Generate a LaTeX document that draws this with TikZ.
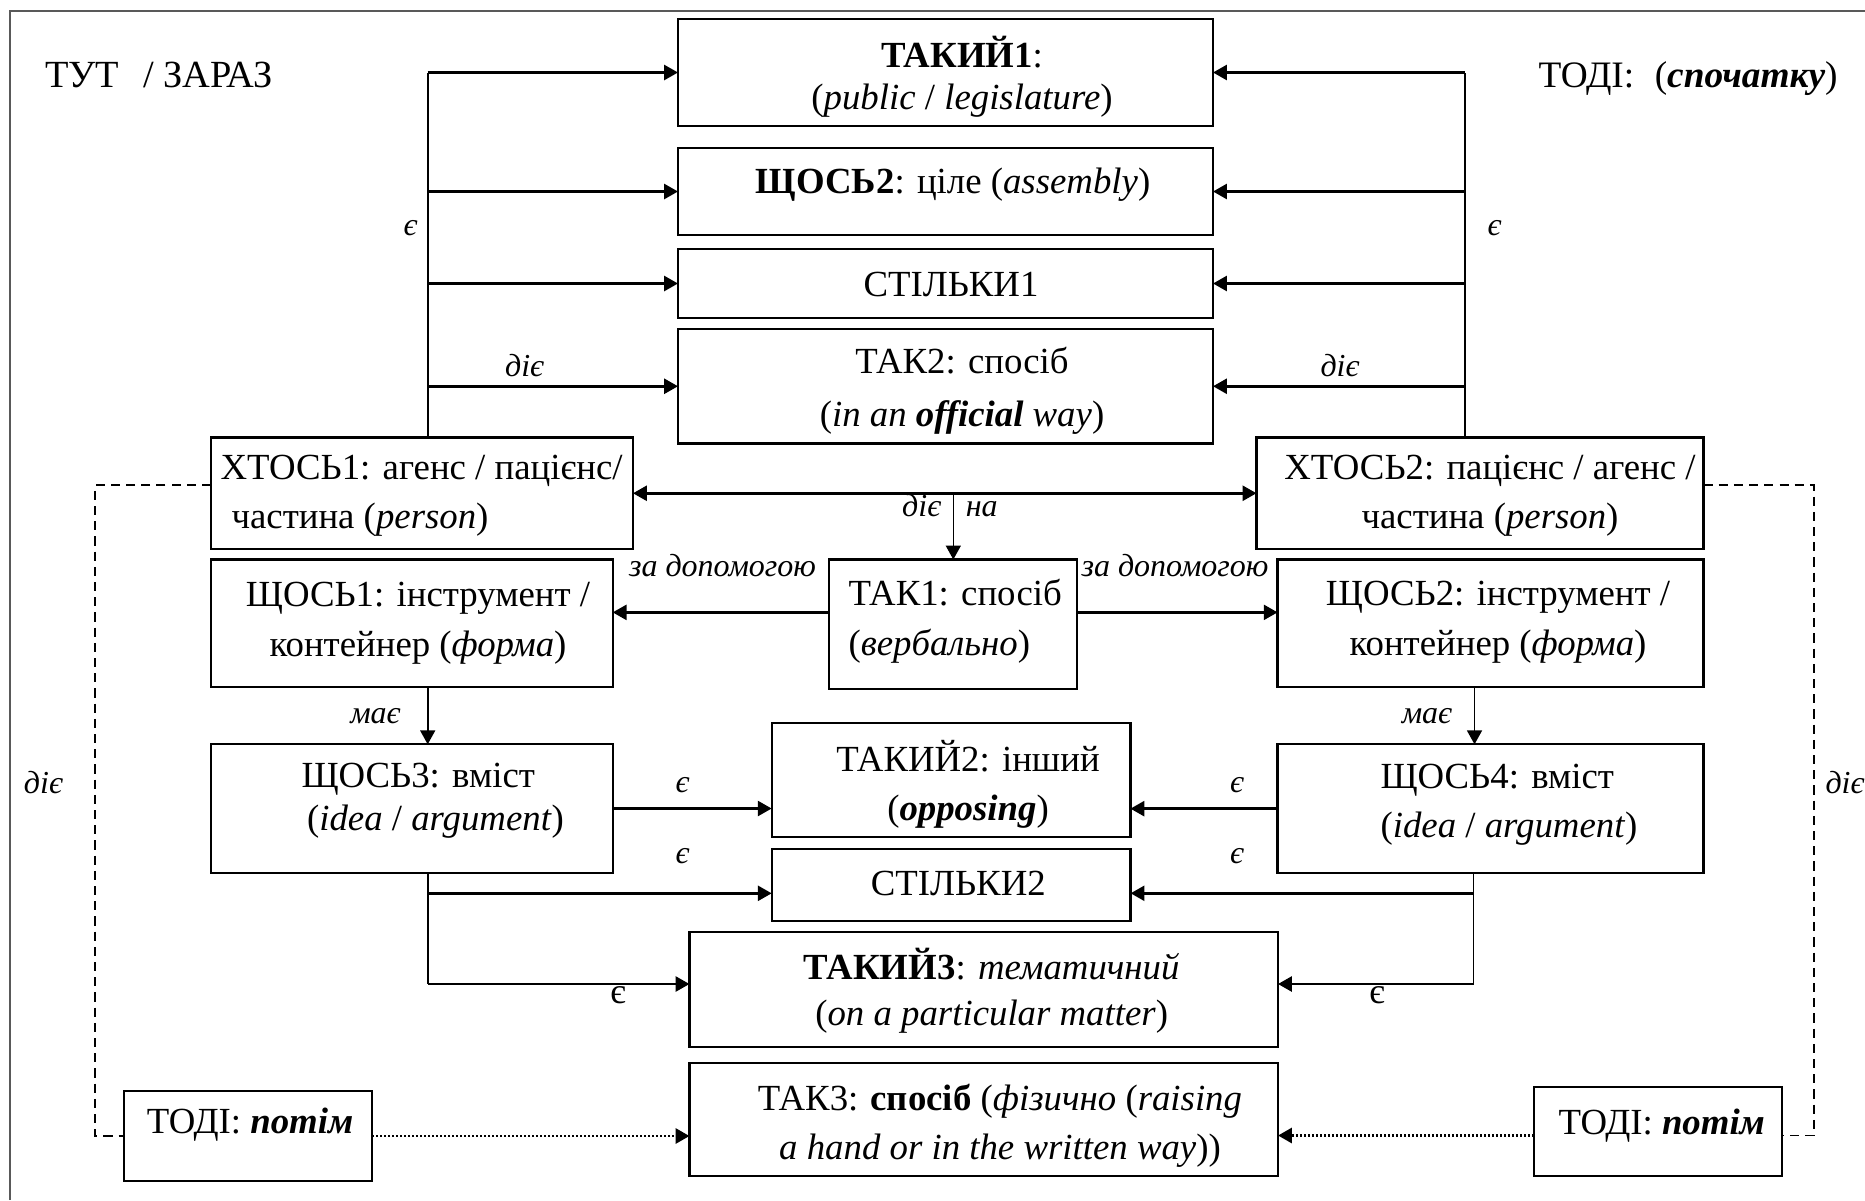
\documentclass[tikz,border=0pt]{standalone}
\usepackage{fontspec}
\setmainfont{Liberation Serif}
\usetikzlibrary{arrows.meta,fit}

\begin{document}
\begin{tikzpicture}[x=0.375pt,y=-0.375pt,
  box/.style={draw,line width=0.85pt,rectangle,inner sep=0pt,outer sep=0pt},
  txt/.style={inner sep=0pt,align=center,font=\fontsize{13.8}{18.4}\selectfont},
  lbl/.style={inner sep=0pt,anchor=base,font=\fontsize{12}{14}\selectfont\itshape},
  tip/.tip={Triangle[length=5.2pt,width=5.6pt]},
  harr/.style={line width=1pt,-tip},
  varr/.style={line width=0.6pt,-tip},
  vline/.style={line width=0.6pt},
  dotarr/.style={line width=1.1pt,dash pattern=on 0.8pt off 0.7pt,-tip},
  dsh/.style={line width=0.6pt,dash pattern=on 3.4pt off 2.3pt},
  frame/.style={line width=0.6pt,draw=black!65}]

\useasboundingbox (0,0) rectangle (1865,1200);
\draw[frame] (10,1200) -- (10,11) -- (1865,11);

% ---------- boxes ----------
\node[box,fit={(678,19) (1213,126)}] (takij1) {};
\node[box,fit={(678,148) (1213,235)}] (shchos2a) {};
\node[box,fit={(678,249) (1213,318)}] (stilky1) {};
\node[box,fit={(678,329) (1213,443.5)}] (tak2) {};
\node[box,fit={(211,437.5) (633,549)}] (xtos1) {};
\node[box,fit={(1256.5,437.5) (1703.5,549)}] (xtos2) {};
\node[box,fit={(211,559.5) (612.7,687.3)}] (shchos1) {};
\node[box,fit={(829.3,559.5) (1077.3,688.7)}] (tak1) {};
\node[box,fit={(1277.6,559.5) (1703.5,687.3)}] (shchos2b) {};
\node[box,fit={(211,744.3) (612.7,872.7)}] (shchos3) {};
\node[box,fit={(771.7,723.3) (1130.4,837.3)}] (takij2) {};
\node[box,fit={(1277.6,744.3) (1703.5,873)}] (shchos4) {};
\node[box,fit={(771.7,849) (1130.6,920.7)}] (stilky2) {};
\node[box,fit={(689.5,932.3) (1278,1046.7)}] (takij3) {};
\node[box,fit={(689.5,1062.7) (1278,1176)}] (tak3) {};
\node[box,fit={(124,1091) (372,1181)}] (todiL) {};
\node[box,fit={(1533.8,1087.3) (1781.8,1175.7)}] (todiR) {};

% ---------- box texts ----------
\node[txt,font=\fontsize{13.8}{15.6}\selectfont] (t-takij1) at (962,76.7)
  {\textbf{ТАКИЙ1}:\\(\textit{public} / \textit{legislature})};
\node[txt,anchor=base] (t-shchos2a) at (953,193.3)
  {\textbf{ЩОСЬ2}: ціле (\textit{assembly})};
\node[txt,anchor=base] (t-stilky1) at (951,296.7) {СТІЛЬКИ1};
\node[txt,font=\fontsize{13.8}{19.8}\selectfont] (t-tak2) at (962,390.6)
  {ТАК2: спосіб\\(\textit{in an} \textbf{\textit{official}} \textit{way})};
\node[txt,align=left,anchor=west] (t-xtos1) at (220,496)
  {ХТОСЬ1: агенс / пацієнс/\\\hspace*{0.3em}частина (\textit{person})};
\node[txt] (t-xtos2) at (1490,496)
  {ХТОСЬ2: пацієнс / агенс /\\частина (\textit{person})};
\node[txt,font=\fontsize{13.8}{18.75}\selectfont] (t-shchos1) at (418,622.8)
  {ЩОСЬ1: інструмент /\\контейнер (\textit{форма})};
\node[txt,align=left,anchor=west,font=\fontsize{13.8}{18.75}\selectfont] (t-tak1) at (848,621.5)
  {ТАК1: спосіб\\(\textit{вербально})};
\node[txt,font=\fontsize{13.8}{18.75}\selectfont] (t-shchos2b) at (1498,622.5)
  {ЩОСЬ2: інструмент /\\контейнер (\textit{форма})};
\node[txt,align=left,anchor=west,font=\fontsize{13.8}{16.1}\selectfont] (t-shchos3) at (301,801)
  {ЩОСЬ3: вміст\\\hspace*{0.15em}(\textit{idea} / \textit{argument})};
\node[txt] (t-takij2) at (968,784)
  {ТАКИЙ2: інший\\(\textbf{\textit{opposing}})};
\node[txt,align=left,anchor=west] (t-shchos4) at (1380,805)
  {ЩОСЬ4: вміст\\(\textit{idea} / \textit{argument})};
\node[txt,anchor=base] (t-stilky2) at (958.3,895) {СТІЛЬКИ2};
\node[txt,font=\fontsize{13.8}{17.5}\selectfont] (t-takij3) at (991.7,990.8)
  {\textbf{ТАКИЙ3}: \textit{тематичний}\\(\textit{on a particular matter})};
\node[txt,font=\fontsize{13.8}{18.5}\selectfont] (t-tak3) at (1000,1126)
  {ТАК3: \textbf{спосіб} (\textit{фізично} (\textit{raising}\\\textit{a hand or in the written way}))};
\node[txt,anchor=base] (t-todiL) at (250,1133.3) {ТОДІ: \textbf{\textit{потім}}};
\node[txt,anchor=base] (t-todiR) at (1661.7,1134) {ТОДІ: \textbf{\textit{потім}}};

% ---------- corner captions ----------
\node[txt,anchor=base west,font=\fontsize{14.4}{16}\selectfont] (here) at (44.6,87) {ТУТ\hspace{0.62em}/ ЗАРАЗ};
\node[txt,anchor=base west,font=\fontsize{14}{16}\selectfont] (then) at (1538,87.3) {ТОДІ:\hspace{0.55em}(\textbf{\textit{спочатку}})};

% ---------- upper trunks ----------
\coordinate (tl) at (427.7,0);
\coordinate (tr) at (1465,0);
\draw[vline] (xtos1.north -| tl) -- (tl |- takij1.west);
\draw[vline] (xtos2.north -| tr) -- (tr |- takij1.east);
\foreach \n in {takij1,shchos2a,stilky1,tak2}{
  \draw[harr] (tl |- \n.west) -- (\n.west);
  \draw[harr] (tr |- \n.east) -- (\n.east);
}
\node[lbl] (l-e1) at (410.7,235) {є};
\node[lbl] (l-e2) at (1494.7,235) {є};
\node[lbl] (l-d1) at (524.6,376.7) {діє};
\node[lbl] (l-d2) at (1340,376.7) {діє};

% ---------- middle ----------
\draw[line width=1pt,tip-tip] (xtos1.east) -- (xtos2.west);
\draw[varr] (tak1.north |- xtos1.east) -- (tak1.north);
\node[lbl] (l-d3) at (921.7,516.5) {діє};
\node[lbl] (l-na) at (981.7,516.5) {на};

\draw[harr] ([yshift=4.4pt]tak1.west) -- ([yshift=4.4pt]tak1.west -| shchos1.east);
\draw[harr] ([yshift=4.4pt]tak1.east) -- ([yshift=4.4pt]tak1.east -| shchos2b.west);
\node[lbl] (l-z1) at (722.5,576) {за допомогою};
\node[lbl] (l-z2) at (1175,576) {за допомогою};

\coordinate (tr2) at (1474.5,0);
\draw[varr] (shchos1.south -| tl) -- (shchos3.north -| tl);
\draw[varr] (shchos2b.south -| tr2) -- (shchos4.north -| tr2);
\node[lbl] (l-m1) at (375.5,723.3) {має};
\node[lbl] (l-m2) at (1427,723.3) {має};

\draw[harr] (shchos3.east) -- (shchos3.east -| takij2.west);
\draw[harr] (shchos4.west) -- (shchos4.west -| takij2.east);
\node[lbl] (l-e3) at (682.5,792) {є};
\node[lbl] (l-e4) at (682.5,863) {є};
\node[lbl] (l-e5) at (1237,792) {є};
\node[lbl] (l-e6) at (1237,863) {є};

% ---------- lower trunks ----------
\coordinate (bl1) at (427.9,893.3);
\coordinate (bl2) at (427.9,984);
\coordinate (br1) at (1473.5,893.3);
\coordinate (br2) at (1473.5,984);
\draw[vline] (shchos3.south -| bl1) -- (bl2);
\draw[vline] (shchos4.south -| br1) -- (br2);
\draw[harr] (bl1) -- (bl1 -| stilky2.west);
\draw[harr] (bl2) -- (bl2 -| takij3.west);
\draw[harr] (br1) -- (br1 -| stilky2.east);
\draw[harr] (br2) -- (br2 -| takij3.east);
\node[lbl,font=\fontsize{13.5}{14}\selectfont] (l-e7) at (618,1003) {є};
\node[lbl,font=\fontsize{13.5}{14}\selectfont] (l-e8) at (1377,1003) {є};

% ---------- time links ----------
\draw[dotarr] (todiL.east) -- (todiL.east -| tak3.west);
\draw[dotarr] ([yshift=-1.5pt]todiR.west) -- ([yshift=-1.5pt]todiR.west -| tak3.east);
\coordinate (dl) at (95,800);
\coordinate (dr) at (1813.7,800);
\draw[dsh] ([yshift=3pt]xtos1.west) -| (dl) |- (todiL.west);
\draw[dsh] ([yshift=3pt]xtos2.east) -| (dr) |- ([yshift=-1.5pt]todiR.east);
\node[lbl] (l-d4) at (43.5,793) {діє};
\node[lbl] (l-d5) at (1845,793) {діє};
\end{tikzpicture}
\end{document}
